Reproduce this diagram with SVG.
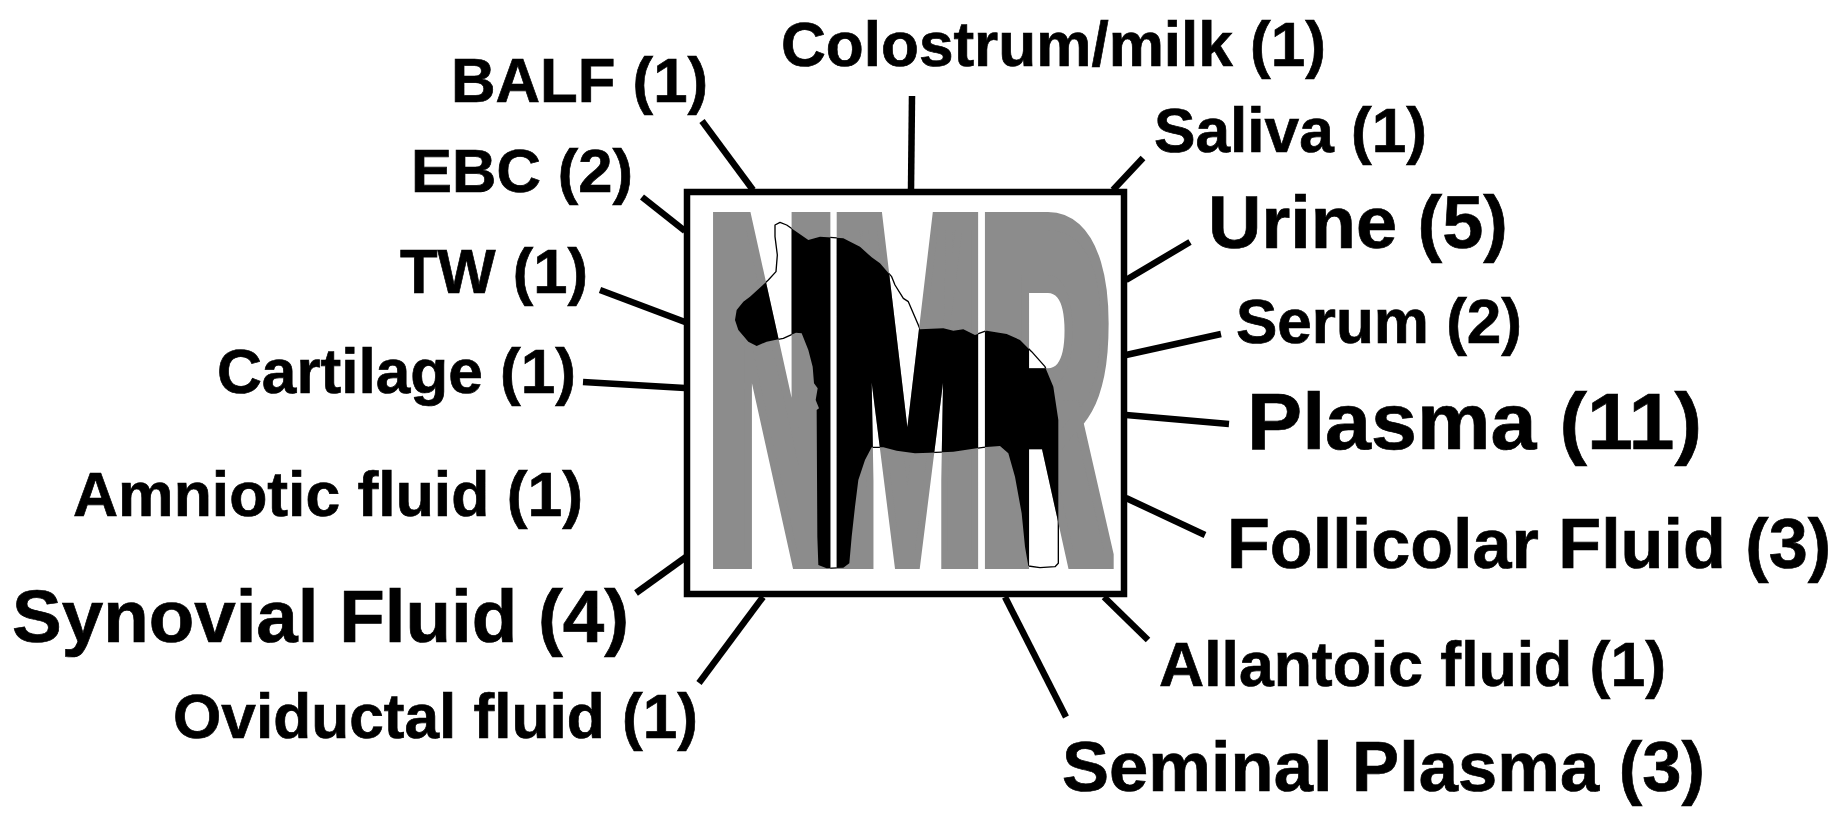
<svg xmlns="http://www.w3.org/2000/svg" width="1846" height="836" viewBox="0 0 1846 836">
<style>
.l{font-family:"Liberation Sans",Arial,sans-serif;font-weight:700;fill:#000;stroke:#000;stroke-width:.7}
.c{stroke:#000;stroke-width:6.5;fill:none}
.nmr{font-family:Roboto,"Liberation Sans",sans-serif;font-weight:900;font-size:502px;stroke-width:19px}
</style>
<defs>
<path id="horsePath" stroke-linejoin="round" transform="translate(670 170) scale(.33333)" d="M315 165L330 157L350 165L415 210L450 200L520 205L570 230L605 262L630 280L665 320L675 345L700 385L715 395L745 465L750 478L820 475L850 482L880 478L915 495L950 482L1010 492L1050 510L1085 545L1125 590L1150 650L1165 750L1165 1180L1155 1190L1110 1193L1075 1188L1065 1130L1055 1030L1035 920L1015 850L990 828L940 832L850 845L780 848L735 850L680 842L640 832L605 832L585 870L565 930L555 1010L545 1100L538 1180L520 1193L470 1195L445 1185L442 1100L440 720L447 715L437 690L443 655L432 640L428 590L415 540L395 490L378 488L340 505L290 515L260 528L235 515L205 480L195 450L200 420L220 395L240 380L295 330L318 305L322 255L315 200Z"/>
<g id="nmrText">
<text class="nmr" transform="translate(706.5 560) scale(.37 .95)">N</text>
<text class="nmr" transform="translate(830.5 560) scale(.35 .95)">M</text>
<text class="nmr" transform="translate(977.5 560) scale(.42 .95)">R</text>
</g>
<mask id="letters" maskUnits="userSpaceOnUse" x="0" y="0" width="1846" height="836"><use href="#nmrText" fill="#fff" stroke="#fff"/></mask>
</defs>
<g id="frame"><rect x="687" y="192" width="437" height="402" fill="#fff" stroke="#000" stroke-width="6.5"/></g>
<g id="logo">
<use href="#horsePath" fill="#fff" stroke="#000" stroke-width="4"/>
<use href="#nmrText" fill="#8c8c8c" stroke="#8c8c8c"/>
<g mask="url(#letters)"><use href="#horsePath" fill="#000"/></g>
</g>
<g id="connectors" class="c">
<path class="c" d="M702 121L753 190"/>
<path class="c" d="M912 96L911 190"/>
<path class="c" d="M1143 158L1113 190"/>
<path class="c" d="M642 197L685 231"/>
<path class="c" d="M600 290L685 322"/>
<path class="c" d="M583 382L685 388"/>
<path class="c" d="M636 593L686 557"/>
<path class="c" d="M699 683L763 597"/>
<path class="c" d="M1190 242L1126 280"/>
<path class="c" d="M1221 334L1126 355"/>
<path class="c" d="M1126 415L1229 424"/>
<path class="c" d="M1126 498L1205 535"/>
<path class="c" d="M1104 597L1148 640"/>
<path class="c" d="M1005 597L1066 717"/>
</g>
<g id="n-balf"><text class="l" x="451" y="102" font-size="63" textLength="257" lengthAdjust="spacingAndGlyphs">BALF (1)</text></g>
<g id="n-ebc"><text class="l" x="411" y="192" font-size="61" textLength="222" lengthAdjust="spacingAndGlyphs">EBC (2)</text></g>
<g id="n-tw"><text class="l" x="400" y="293" font-size="63" textLength="188" lengthAdjust="spacingAndGlyphs">TW (1)</text></g>
<g id="n-cartilage"><text class="l" x="217" y="393" font-size="63" textLength="359" lengthAdjust="spacingAndGlyphs">Cartilage (1)</text></g>
<g id="n-amniotic"><text class="l" x="73" y="516" font-size="63" textLength="510" lengthAdjust="spacingAndGlyphs">Amniotic fluid (1)</text></g>
<g id="n-synovial"><text class="l" x="12" y="642" font-size="75" textLength="617" lengthAdjust="spacingAndGlyphs">Synovial Fluid (4)</text></g>
<g id="n-oviductal"><text class="l" x="173" y="738" font-size="63" textLength="525" lengthAdjust="spacingAndGlyphs">Oviductal fluid (1)</text></g>
<g id="n-colostrum"><text class="l" x="781" y="66" font-size="63" textLength="545" lengthAdjust="spacingAndGlyphs">Colostrum/milk (1)</text></g>
<g id="n-saliva"><text class="l" x="1154" y="152" font-size="63" textLength="273" lengthAdjust="spacingAndGlyphs">Saliva (1)</text></g>
<g id="n-urine"><text class="l" x="1208" y="248" font-size="74" textLength="300" lengthAdjust="spacingAndGlyphs">Urine (5)</text></g>
<g id="n-serum"><text class="l" x="1236" y="343" font-size="63" textLength="286" lengthAdjust="spacingAndGlyphs">Serum (2)</text></g>
<g id="n-plasma"><text class="l" x="1247" y="449" font-size="80" textLength="455" lengthAdjust="spacingAndGlyphs">Plasma (11)</text></g>
<g id="n-follicolar"><text class="l" x="1227" y="568" font-size="71" textLength="604" lengthAdjust="spacingAndGlyphs">Follicolar Fluid (3)</text></g>
<g id="n-allantoic"><text class="l" x="1159" y="686" font-size="63" textLength="507" lengthAdjust="spacingAndGlyphs">Allantoic fluid (1)</text></g>
<g id="n-seminal"><text class="l" x="1062" y="791" font-size="71" textLength="643" lengthAdjust="spacingAndGlyphs">Seminal Plasma (3)</text></g>
</svg>
